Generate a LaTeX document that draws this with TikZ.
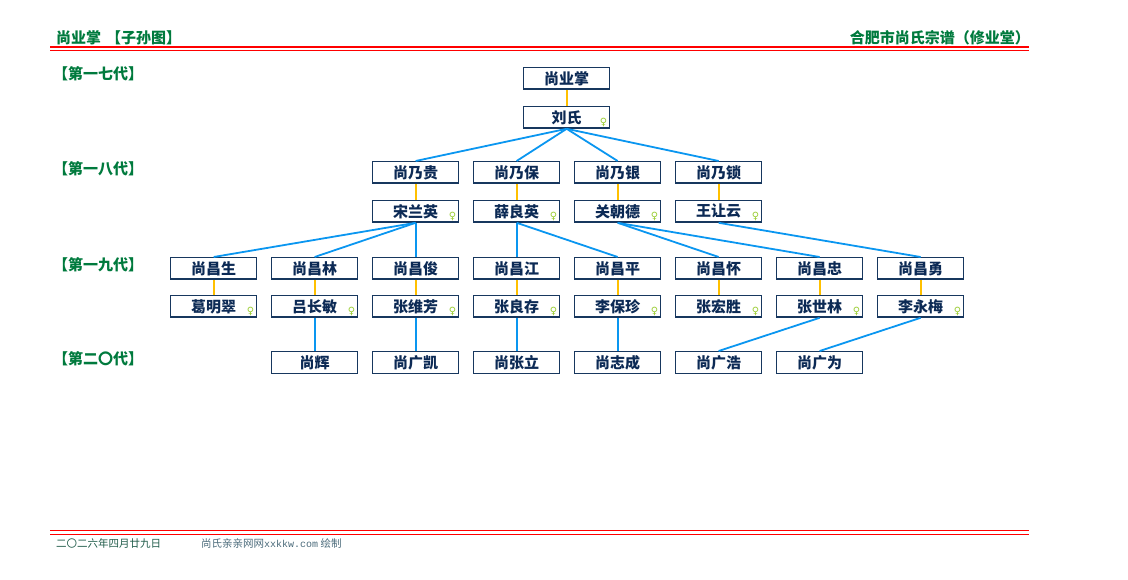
\documentclass[tikz,border=0pt]{standalone}
\usepackage{fontspec}
\setmainfont{Noto Sans CJK SC}
\newfontfamily\cjk{Noto Sans CJK SC}
\newfontfamily\symf{DejaVu Sans}
\newfontfamily\monof{Liberation Mono}
\definecolor{navytext}{HTML}{0C2A55}
\definecolor{boxline}{HTML}{17375E}
\definecolor{hdrgreen}{HTML}{007A3D}
\definecolor{linkblue}{HTML}{0A96F0}
\definecolor{spouseyel}{HTML}{FFC000}
\definecolor{femgreen}{HTML}{9ACD32}
\definecolor{hred}{HTML}{FF0000}
\definecolor{foottxt}{HTML}{1E5A48}
\definecolor{foottxtb}{HTML}{4A6A7A}
\tikzset{
  person/.style={draw=boxline, line width=1.3pt, fill=white, minimum width=86pt, minimum height=21.5pt,
    inner sep=0pt, anchor=north west, text=navytext, font=\cjk\bfseries\fontsize{15}{15}\selectfont},
  femmark/.style={draw=none, fill=none, anchor=center, minimum width=0pt, minimum height=0pt, inner sep=0pt,
    text=femgreen, font=\symf\fontsize{10}{10}\selectfont},
  spouse/.style={person, path picture={\node[femmark]
    at ([xshift=-6pt,yshift=6pt]path picture bounding box.south east) {♀};}},
  blood/.style={draw=linkblue, line width=1.8pt},
  marry/.style={draw=spouseyel, line width=2.2pt},
  genlabel/.style={anchor=west, inner sep=0pt, text=hdrgreen, font=\cjk\bfseries\fontsize{15}{15}\selectfont},
  hdr/.style={inner sep=0pt, text=hdrgreen, font=\cjk\bfseries\fontsize{15}{15}\selectfont},
  redthick/.style={draw=hred, line width=1.8pt},
  redthin/.style={draw=hred, line width=1pt},
  foot/.style={anchor=west, inner sep=0pt, font=\cjk\fontsize{10.5}{10.5}\selectfont}
}
\begin{document}
\begin{tikzpicture}[x=1pt,y=-1pt]
\useasboundingbox (0,0) rectangle (1128,580);
% header
\node[hdr, anchor=west] (htl) at (56,38) {尚业掌\hspace{5pt}【子孙图】};
\node[hdr, anchor=east] (htr) at (1030,38) {合肥市尚氏宗谱（修业堂）};
\coordinate (hl1a) at (50,47.2); \coordinate (hl1b) at (1029,47.2);
\coordinate (hl2a) at (50,50.5); \coordinate (hl2b) at (1029,50.5);
\draw[redthick] (hl1a) -- (hl1b);
\draw[redthin] (hl2a) -- (hl2b);
% generation labels
\node[genlabel] (g17) at (53,74) {【第一七代】};
\node[genlabel] (g18) at (53,169) {【第一八代】};
\node[genlabel] (g19) at (53,265) {【第一九代】};
\node[genlabel] (g20) at (53,359) {【第二〇代】};
% gen 17
\node[person] (a0) at (523,67) {尚业掌};
\node[spouse] (s0) at (523,106) {刘氏};
% gen 18
\node[person] (b1) at (372,161) {尚乃贵};
\node[person] (b2) at (473,161) {尚乃保};
\node[person] (b3) at (574,161) {尚乃银};
\node[person] (b4) at (675,161) {尚乃锁};
\node[spouse] (bs1) at (372,200) {宋兰英};
\node[spouse] (bs2) at (473,200) {薛良英};
\node[spouse] (bs3) at (574,200) {关朝德};
\node[spouse] (bs4) at (675,200) {王让云};
% gen 19
\node[person] (c1) at (170,257) {尚昌生};
\node[person] (c2) at (271,257) {尚昌林};
\node[person] (c3) at (372,257) {尚昌俊};
\node[person] (c4) at (473,257) {尚昌江};
\node[person] (c5) at (574,257) {尚昌平};
\node[person] (c6) at (675,257) {尚昌怀};
\node[person] (c7) at (776,257) {尚昌忠};
\node[person] (c8) at (877,257) {尚昌勇};
\node[spouse] (cs1) at (170,295) {葛明翠};
\node[spouse] (cs2) at (271,295) {吕长敏};
\node[spouse] (cs3) at (372,295) {张维芳};
\node[spouse] (cs4) at (473,295) {张良存};
\node[spouse] (cs5) at (574,295) {李保珍};
\node[spouse] (cs6) at (675,295) {张宏胜};
\node[spouse] (cs7) at (776,295) {张世林};
\node[spouse] (cs8) at (877,295) {李永梅};
% gen 20
\node[person] (d2) at (271,351) {尚辉};
\node[person] (d3) at (372,351) {尚广凯};
\node[person] (d4) at (473,351) {尚张立};
\node[person] (d5) at (574,351) {尚志成};
\node[person] (d6) at (675,351) {尚广浩};
\node[person] (d7) at (776,351) {尚广为};
% marriages
\foreach \p/\s in {a0/s0,b1/bs1,b2/bs2,b3/bs3,b4/bs4,c1/cs1,c2/cs2,c3/cs3,c4/cs4,c5/cs5,c6/cs6,c7/cs7,c8/cs8}
  \draw[marry] (\p.south) -- (\s.north);
% descent
\foreach \p/\c in {s0/b1,s0/b2,s0/b3,s0/b4,bs1/c1,bs1/c2,bs1/c3,bs2/c4,bs2/c5,bs3/c6,bs3/c7,bs4/c8,cs2/d2,cs3/d3,cs4/d4,cs5/d5,cs7/d6,cs8/d7}
  \draw[blood] (\p.south) -- (\c.north);
% footer
\coordinate (fl1a) at (50,530.8); \coordinate (fl1b) at (1029,530.8);
\coordinate (fl2a) at (50,534); \coordinate (fl2b) at (1029,534);
\draw[redthin] (fl1a) -- (fl1b);
\draw[redthin] (fl2a) -- (fl2b);
\node[foot, text=foottxt] (fdate) at (56,543) {二〇二六年四月廿九日};
\node[foot, text=foottxtb] (fsite) at (201,543) {尚氏亲亲网网{\monof\fontsize{10}{10}\selectfont xxkkw.com} 绘制};
\end{tikzpicture}
\end{document}
